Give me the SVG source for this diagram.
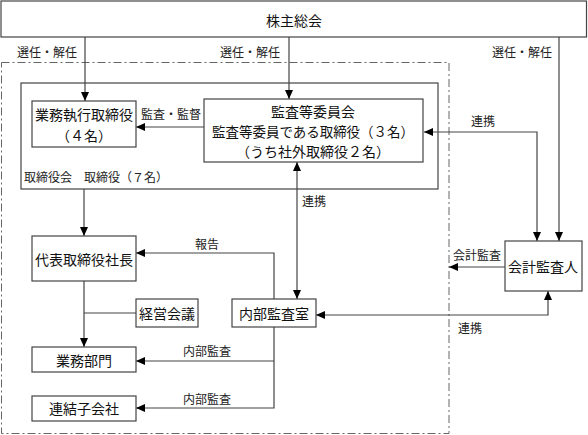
<svg xmlns="http://www.w3.org/2000/svg" width="588" height="435" viewBox="0 0 588 435">
<style>
.box{fill:#fff;stroke:#444;stroke-width:1.2}
.frame{fill:none;stroke:#444;stroke-width:1.2}
.dash{fill:none;stroke:#666;stroke-width:1;stroke-dasharray:8 3 2 3}
.t{font-family:"Noto Sans CJK JP","Noto Sans CJK SC",sans-serif;font-size:14px;fill:#111;text-anchor:middle;dominant-baseline:central}
.l{font-family:"Noto Sans CJK JP","Noto Sans CJK SC",sans-serif;font-size:12px;fill:#222;text-anchor:middle;dominant-baseline:central}
.c{fill:none;stroke:#444;stroke-width:1.2}
</style>
<defs>
<marker id="ah" markerUnits="userSpaceOnUse" markerWidth="9" markerHeight="8" refX="9" refY="4" orient="auto-start-reverse"><path d="M0,0 L9,4 L0,8 z" fill="#000"/></marker>
</defs>
<rect width="588" height="435" fill="#fff"/>
<rect class="dash" x="1.5" y="62.5" width="447.5" height="371"/>
<rect class="frame" x="21" y="83" width="417" height="106"/>
<g id="connectors">
<path class="c" d="M85,37 V101" marker-end="url(#ah)"/>
<path class="c" d="M289,37 V99" marker-end="url(#ah)"/>
<path class="c" d="M559,37 V241" marker-end="url(#ah)"/>
<path class="c" d="M204,127 H136" marker-end="url(#ah)"/>
<path class="c" d="M424,132 H537 V241" marker-start="url(#ah)" marker-end="url(#ah)"/>
<path class="c" d="M297,162 V299" marker-start="url(#ah)" marker-end="url(#ah)"/>
<path class="c" d="M84,189 V236" marker-end="url(#ah)"/>
<path class="c" d="M84,281 V347" marker-end="url(#ah)"/>
<path class="c" d="M84,313 H136"/>
<path class="c" d="M274,299 V253 H136" marker-end="url(#ah)"/>
<path class="c" d="M274,327 V408 H136" marker-end="url(#ah)"/>
<path class="c" d="M274,361 H136" marker-end="url(#ah)"/>
<path class="c" d="M505,267 H449" marker-end="url(#ah)"/>
<path class="c" d="M316,315 H548 V291" marker-start="url(#ah)" marker-end="url(#ah)"/>
<text class="l" x="47" y="51">選任・解任</text>
<text class="l" x="250" y="51">選任・解任</text>
<text class="l" x="522" y="51">選任・解任</text>
<text class="l" x="171" y="113">監査・監督</text>
<text class="l" x="483" y="120">連携</text>
<text class="l" x="314" y="200">連携</text>
<text class="l" x="207" y="243">報告</text>
<text class="l" x="477" y="254">会計監査</text>
<text class="l" x="470" y="327">連携</text>
<text class="l" x="207" y="350">内部監査</text>
<text class="l" x="207" y="398">内部監査</text>
<text class="l" x="24" y="176" style="text-anchor:start">取締役会　取締役（７名）</text>
</g>
<g id="shareholders">
<rect class="box" x="1" y="1" width="585.5" height="36"/>
<text class="t" x="294" y="20">株主総会</text>
</g>
<g id="executive">
<rect class="box" x="32" y="101" width="104" height="46"/>
<text class="t" x="84" y="114">業務執行取締役</text>
<text class="t" x="84" y="135">（４名）</text>
</g>
<g id="audit-committee">
<rect class="box" x="204" y="99" width="219" height="63"/>
<text class="t" x="313" y="110.5">監査等委員会</text>
<text class="t" x="313" y="130.5" textLength="202" lengthAdjust="spacingAndGlyphs">監査等委員である取締役（３名）</text>
<text class="t" x="313" y="150.5">（うち社外取締役２名）</text>
</g>
<g id="president">
<rect class="box" x="32" y="236" width="104" height="45"/>
<text class="t" x="84" y="259">代表取締役社長</text>
</g>
<g id="management-meeting">
<rect class="box" x="136" y="299" width="62" height="28"/>
<text class="t" x="167" y="313">経営会議</text>
</g>
<g id="internal-audit">
<rect class="box" x="232" y="299" width="84" height="28"/>
<text class="t" x="274" y="313">内部監査室</text>
</g>
<g id="business-division">
<rect class="box" x="32" y="347" width="104" height="25"/>
<text class="t" x="84" y="360">業務部門</text>
</g>
<g id="subsidiaries">
<rect class="box" x="32" y="396" width="104" height="25"/>
<text class="t" x="84" y="408">連結子会社</text>
</g>
<g id="accounting-auditor">
<rect class="box" x="505" y="241" width="77" height="50"/>
<text class="t" x="543" y="266">会計監査人</text>
</g>
</svg>
